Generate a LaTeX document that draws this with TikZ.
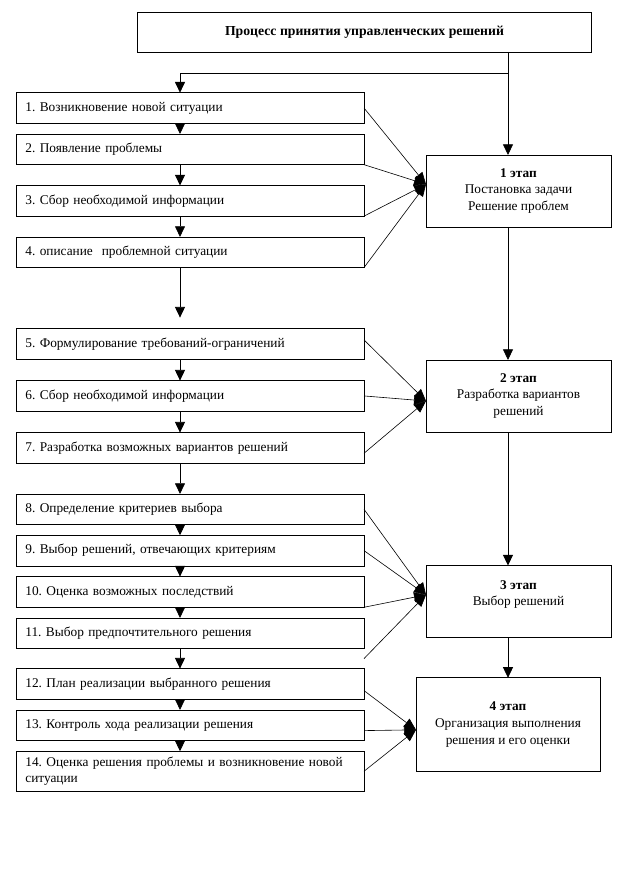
\documentclass[tikz,border=0pt]{standalone}
\usepackage{fontspec}
\setmainfont{Liberation Serif}
\usetikzlibrary{arrows.meta,positioning,calc}
\frenchspacing

\begin{document}
\begin{tikzpicture}[x=0.75pt,y=-0.75pt, node distance=8pt, every node/.style={font=\fontsize{10}{12.5}\selectfont}, stepbox/.style={draw,line width=0.6pt,outer sep=0pt,text width=247pt,align=left,minimum height=23pt,inner xsep=7pt,inner ysep=2pt}, stagebox/.style={draw,line width=0.6pt,outer sep=0pt,align=center,minimum width=138.75pt,minimum height=54pt}, arr/.style={-{Triangle[length=8pt,width=7.5pt]},line width=0.6pt}, feed/.style={-{Triangle[length=9pt,width=7.5pt]},line width=0.45pt}]
\useasboundingbox (0,0) rectangle (640,877);
\node[draw,line width=0.6pt,outer sep=0pt,minimum width=340pt,minimum height=30pt,font=\fontsize{10.3}{12.5}\selectfont\bfseries] (proc) at (364.5,32) {Процесс принятия управленческих решений};
% left column of steps
\node[stepbox] (b1) at (190,108) {1. Возникновение новой ситуации};
\node[stepbox,below=of b1] (b2) {2. Появление проблемы};
\node[stepbox,below=15.6pt of b2] (b3) {3. Сбор необходимой информации};
\node[stepbox,below=15.6pt of b3] (b4) {4. описание~ проблемной ситуации};
\node[stepbox,below=45.75pt of b4] (b5) {5. Формулирование требований-ограничений};
\node[stepbox,below=16pt of b5] (b6) {6. Сбор необходимой информации};
\node[stepbox,below=16pt of b6] (b7) {7. Разработка возможных вариантов решений};
\node[stepbox,below=23pt of b7] (b8) {8. Определение критериев выбора};
\node[stepbox,below=of b8] (b9) {9. Выбор решений, отвечающих критериям};
\node[stepbox,below=of b9] (b10) {10. Оценка возможных последствий};
\node[stepbox,below=of b10] (b11) {11. Выбор предпочтительного решения};
\node[stepbox,below=15pt of b11] (b12) {12. План реализации выбранного решения};
\node[stepbox,below=of b12] (b13) {13. Контроль хода реализации решения};
\node[stepbox,below=of b13,minimum height=30pt] (b14) {14. Оценка решения проблемы и возникновение новой\\ситуации};
% stages
\node[stagebox] (st1) at (518.5,191) {\textbf{1 этап}\\Постановка задачи\\Решение проблем};
\node[stagebox] (st2) at (518.5,396) {\textbf{2 этап}\\Разработка вариантов\\решений};
\node[stagebox] (st3) at (518.5,601.5) {\textbf{3 этап}\\Выбор решений\\\mbox{}};
\node[stagebox,minimum width=138pt,minimum height=70pt] (st4) at (508,724.5) {\textbf{4 этап}\\Организация выполнения\\решения и его оценки};
\coordinate (spine) at (508,73);
\coordinate (lane) at (180,73);
\coordinate (gap45) at ($(b4.south -| lane)+(0,50)$);
\coordinate (out11) at ([yshift=-7.5pt]b11.south east);
\coordinate (in1) at ([yshift=5pt]st1.west);
\coordinate (in2) at ([yshift=-3.75pt]st2.west);
\coordinate (in3) at ([yshift=5pt]st3.west);
\coordinate (in4) at ([yshift=-4pt]st4.west);
% main flow
\draw[line width=0.6pt] (proc.south -| spine)--(spine);
\draw[arr] (spine)--(st1.north -| spine);\draw[arr] (spine)--(lane)--(b1.north -| lane);
\draw[arr] (st1.south -| spine)--(st2.north -| spine);\draw[arr] (st2.south -| spine)--(st3.north -| spine);\draw[arr] (st3.south -| spine)--(st4.north);
\draw[arr] (b1.south -| lane)--(b2.north -| lane);\draw[arr] (b2.south -| lane)--(b3.north -| lane);\draw[arr] (b3.south -| lane)--(b4.north -| lane);\draw[arr] (b4.south -| lane)--(gap45);
\draw[arr] (b5.south -| lane)--(b6.north -| lane);\draw[arr] (b6.south -| lane)--(b7.north -| lane);\draw[arr] (b7.south -| lane)--(b8.north -| lane);
\draw[arr] (b8.south -| lane)--(b9.north -| lane);\draw[arr] (b9.south -| lane)--(b10.north -| lane);\draw[arr] (b10.south -| lane)--(b11.north -| lane);\draw[arr] (b11.south -| lane)--(b12.north -| lane);
\draw[arr] (b12.south -| lane)--(b13.north -| lane);\draw[arr] (b13.south -| lane)--(b14.north -| lane);
% steps into stages
\draw[feed] (b1.east)--(in1);\draw[feed] (b2.south east)--(in1);\draw[feed] (b3.south east)--(in1);\draw[feed] (b4.south east)--(in1);
\draw[feed] ([yshift=3pt]b5.east)--(in2);\draw[feed] (b6.east)--(in2);\draw[feed] ([yshift=-4pt]b7.east)--(in2);
\draw[feed] (b8.east)--(in3);\draw[feed] (b9.east)--(in3);\draw[feed] (b10.south east)--(in3);\draw[feed] (out11)--(in3);
\draw[feed] ([yshift=-5pt]b12.east)--(in4);\draw[feed] ([yshift=-4pt]b13.east)--(in4);\draw[feed] (b14.east)--(in4);
\end{tikzpicture}
\end{document}
